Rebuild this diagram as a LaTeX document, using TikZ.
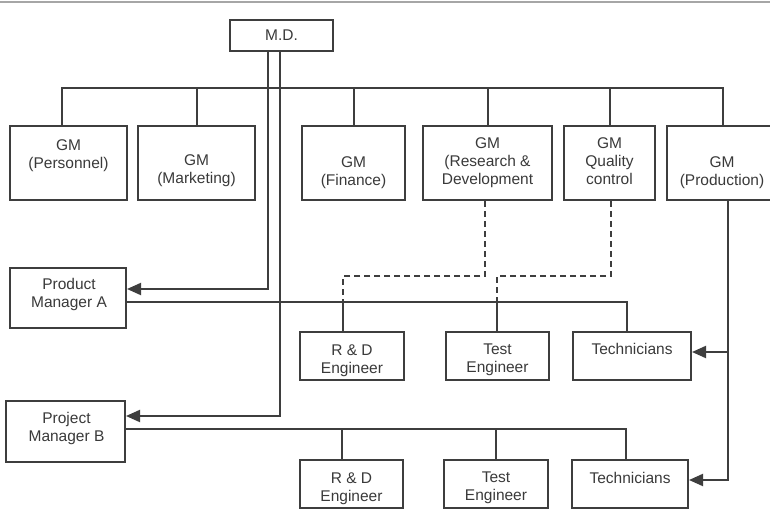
\documentclass[tikz,border=0pt]{standalone}
\usepackage{fontspec}
\setmainfont{Liberation Sans}
\usetikzlibrary{arrows.meta,calc}
\definecolor{ink}{HTML}{3E3E3E}
\definecolor{txt}{HTML}{3A3A3A}
\begin{document}
\begin{tikzpicture}[x=1pt,y=-1pt,
  box/.style 2 args={draw=ink,line width=2pt,minimum width=#1,minimum height=#2,inner sep=0pt},
  lbl/.style={text=txt,align=center,inner sep=0pt,font=\fontsize{15.5}{18}\selectfont},
  wire/.style={draw=ink,line width=2pt},
  dotted link/.style={wire,dash pattern=on 6pt off 4pt},
  arr/.style={wire,-{Triangle[length=14pt,width=12pt]}}]
\fill[white] (0,0) rectangle (770,511);
\useasboundingbox (0,0) rectangle (770,511);
% page edge at the top
\draw[gray!70,line width=1.2pt] (0,2) -- (770,2);

% managing director
\node[box={103pt}{31pt}] (md) at (281.5,35.5) {};
\node[lbl] (md-t) at (md) {M.D.};

% general managers
\node[box={117pt}{74pt}] (gp)  at (68.5,163) {};
\node[box={117pt}{74pt}] (gm)  at (196.5,163) {};
\node[box={103pt}{74pt}] (gf)  at (353.5,163) {};
\node[box={129pt}{74pt}] (grd) at (487.5,163) {};
\node[box={91pt}{74pt}]  (gq)  at (609.5,163) {};
\node[box={113pt}{74pt}] (gpr) at (723.5,163) {};
\node[lbl] (gp-t)  at ($(gp)+(0,-7)$)   {GM\\(Personnel)};
\node[lbl] (gm-t)  at ($(gm)+(0,8)$)    {GM\\(Marketing)};
\node[lbl] (gf-t)  at ($(gf)+(0,9.5)$)  {GM\\(Finance)};
\node[lbl] (grd-t) at ($(grd)+(0,-0.5)$) {GM\\(Research \&\\Development};
\node[lbl] (gq-t)  at ($(gq)+(0,-2)$)   {GM\\Quality\\control};
\node[lbl] (gpr-t) at ($(gpr)+(-1.5,10)$) {GM\\(Production)};

% product and project managers
\node[box={116pt}{60pt}] (pma) at (68,298) {};
\node[box={119pt}{61pt}] (pmb) at (65.5,431.5) {};
\node[lbl] (pma-t) at ($(pma)+(1,-3.5)$) {Product\\Manager A};
\node[lbl] (pmb-t) at ($(pmb)+(1,-3.5)$) {Project\\Manager B};

% staff, first team
\node[box={104pt}{48pt}] (re1) at (352,356) {};
\node[box={103pt}{48pt}] (te1) at (497.5,356) {};
\node[box={118pt}{48pt}] (tc1) at (632,356) {};
\node[lbl] (re1-t) at ($(re1)+(0,4.5)$) {R \& D\\Engineer};
\node[lbl] (te1-t) at ($(te1)+(0,3.5)$) {Test\\Engineer};
\node[lbl] (tc1-t) at ($(tc1)+(0,-7)$)  {Technicians};

% staff, second team
\node[box={103pt}{48pt}] (re2) at (351.5,484) {};
\node[box={104pt}{48pt}] (te2) at (496,484) {};
\node[box={116pt}{48pt}] (tc2) at (630,484) {};
\node[lbl] (re2-t) at ($(re2)+(0,4.5)$) {R \& D\\Engineer};
\node[lbl] (te2-t) at ($(te2)+(0,4)$)   {Test\\Engineer};
\node[lbl] (tc2-t) at ($(tc2)+(0,-6.5)$) {Technicians};

% bus from M.D. to the general managers
\coordinate (busL) at (62,88);
\coordinate (busR) at (723,88);
\draw[wire] (busL |- gp.north) -- (busL) -- (busR) -- (busR |- gpr.north);
\foreach \g in {gm,gf,grd,gq}
  \draw[wire] (\g.north) -- (\g.north |- busL);

% M.D. lines to the two managers
\coordinate (mdA) at (268,51);
\coordinate (mdB) at (280,51);
\coordinate (pmaIn) at ($(pma.east)+(0,-9)$);
\coordinate (pmbIn) at ($(pmb.east)+(0,-15.5)$);
\draw[arr] (mdA) |- (pmaIn);
\draw[arr] (mdB) |- (pmbIn);

% product manager A and its team
\coordinate (pmaOut) at ($(pma.east)+(0,4)$);
\coordinate (aRE) at (343,302);
\coordinate (aTE) at (497,302);
\coordinate (aTC) at (627,302);
\draw[wire] (pmaOut) -- (aTC) -- (aTC |- tc1.north);
\draw[wire] (aRE) -- (aRE |- re1.north);
\draw[wire] (aTE) -- (aTE |- te1.north);

% project manager B and its team
\coordinate (pmbOut) at ($(pmb.east)+(0,-2.5)$);
\coordinate (bRE) at (342,429);
\coordinate (bTE) at (496,429);
\coordinate (bTC) at (626,429);
\draw[wire] (pmbOut) -- (bTC) -- (bTC |- tc2.north);
\draw[wire] (bRE) -- (bRE |- re2.north);
\draw[wire] (bTE) -- (bTE |- te2.north);

% functional (dashed) links to the engineers
\coordinate (dA) at (0,276);
\coordinate (rdOut) at ($(grd.south)+(-2.5,0)$);
\coordinate (qcOut) at ($(gq.south)+(1.5,0)$);
\draw[dotted link] (rdOut) -- (rdOut |- dA) -| (aRE);
\draw[dotted link] (qcOut) -- (qcOut |- dA) -| (aTE);

% production to the technicians
\coordinate (pv) at (728,200);
\coordinate (t1In) at ($(tc1.east)+(0,-4)$);
\coordinate (t2In) at ($(tc2.east)+(0,-4)$);
\draw[arr] (pv) |- (t2In);
\draw[arr] (pv |- t1In) -- (t1In);
\end{tikzpicture}
\end{document}
